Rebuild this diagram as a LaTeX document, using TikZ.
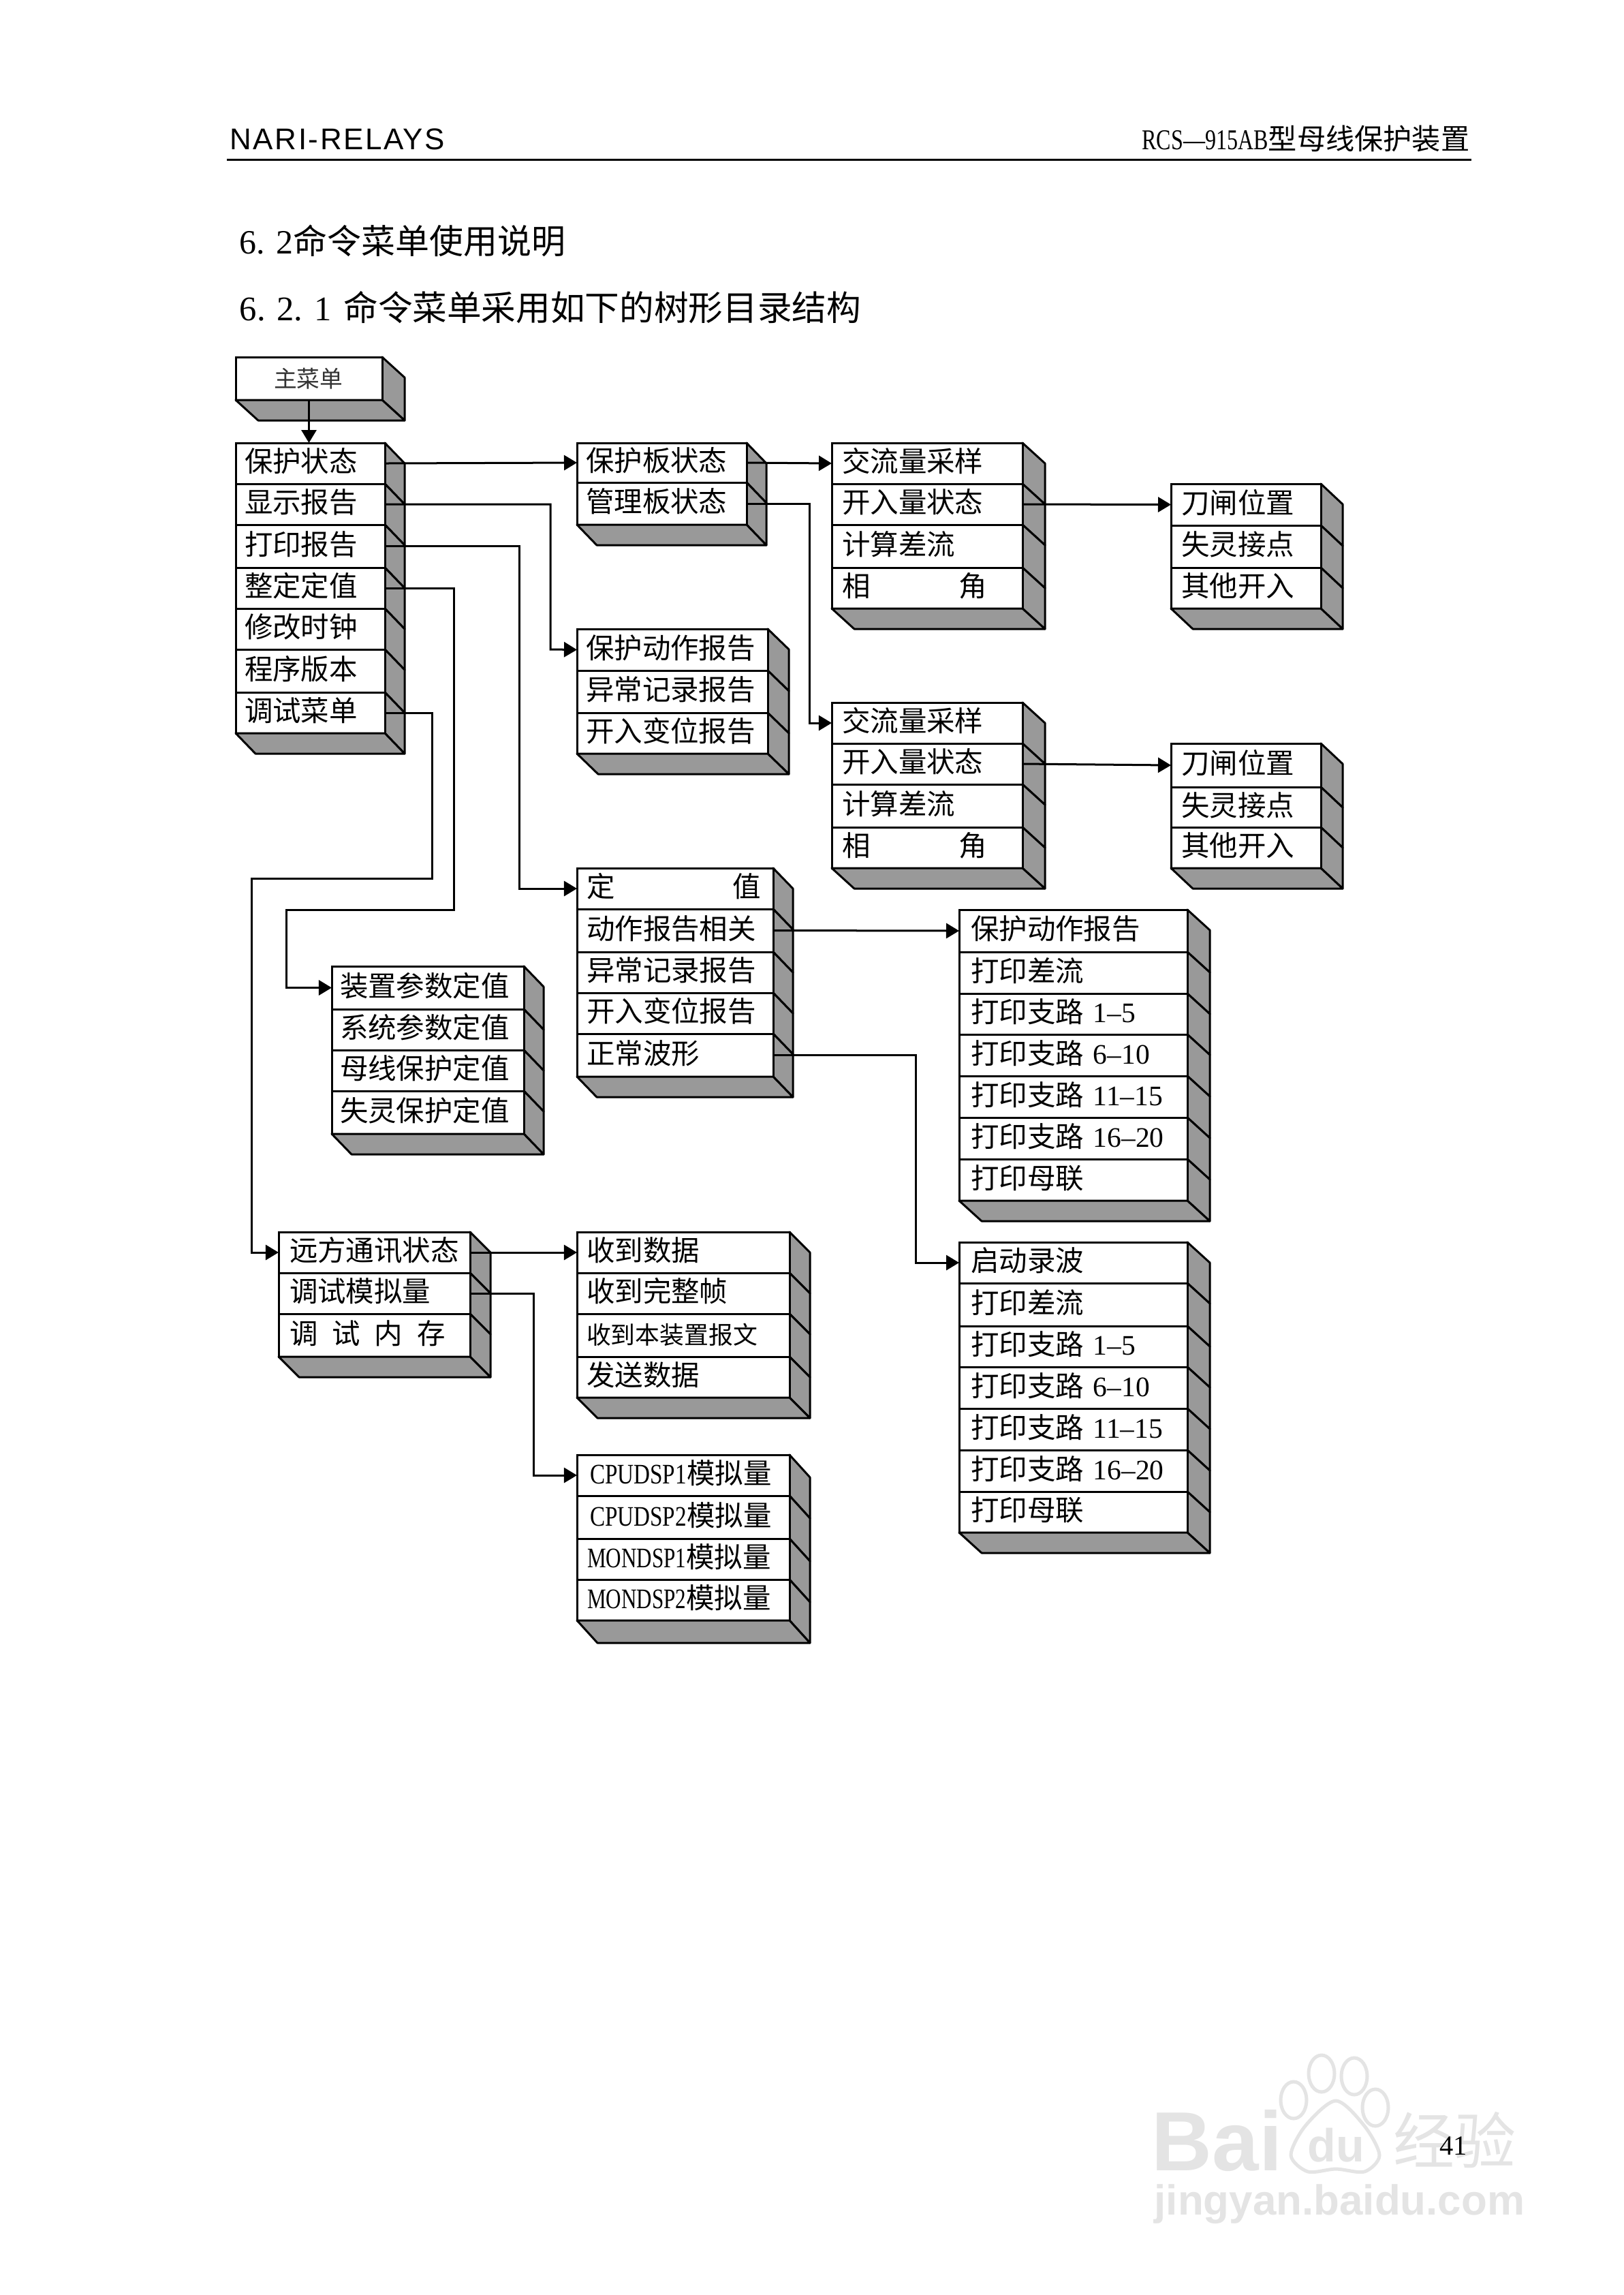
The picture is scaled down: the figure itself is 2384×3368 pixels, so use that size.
\documentclass[tikz,border=0pt]{standalone}
\usepackage{fontspec}
\usepackage{graphicx}
\usepackage{xcolor}
\usetikzlibrary{shapes,arrows.meta,positioning,calc}
\setmainfont{Liberation Serif}
\setsansfont{Liberation Sans}
\newfontfamily\cjkfont{Noto Sans CJK SC}
\newfontfamily\headfont[LetterSpace=5.8]{Liberation Sans}
\definecolor{facegray}{HTML}{999999}
\definecolor{markgray}{HTML}{E4E4E4}

\tikzset{
  face/.style={draw, fill=facegray, line width=0.03cm, line join=round},
  rowbox/.style={draw, fill=white, rectangle, anchor=north west, line width=0.03cm, inner ysep=0pt, outer sep=0pt,
    align=left, text height=0.32cm, text depth=0.064cm, font=\cjkfont\fontsize{11.8pt}{13pt}\selectfont},
  conn/.style={line width=0.03cm, -{Triangle[length=0.19cm,width=0.22cm]}},
  pagetext/.style={inner sep=0pt, anchor=base west},
  marktext/.style={inner sep=0pt, anchor=base west, text=markgray},
  markline/.style={draw=markgray, line width=0.05cm}
}

% one stack of rows: left edge, width, depth x, depth y, text padding
\newcommand{\setstack}[5]{\def\boxx{#1}\def\boxw{#2}\def\boxdx{#3}\def\boxdy{#4}\def\boxpad{#5}}
\newcommand{\menurow}[4]{%
  \draw[face] (\boxx+\boxw,#2) -- (\boxx+\boxw+\boxdx,#2+\boxdy) -- (\boxx+\boxw+\boxdx,#3+\boxdy) -- (\boxx+\boxw,#3) -- cycle;
  \pgfmathsetlengthmacro{\rowtext}{(\boxw-2*\boxpad)*0.01cm}
  \pgfmathsetlengthmacro{\rowpad}{\boxpad*0.01cm}
  \pgfmathsetlengthmacro{\rowwide}{\boxw*0.01cm}
  \pgfmathsetlengthmacro{\rowhigh}{(#3-#2)*0.01cm}
  \node[rowbox, text width=\rowtext, inner xsep=\rowpad, minimum width=\rowwide, minimum height=\rowhigh] (#1) at (\boxx,#2) {#4};}
\newcommand{\menubase}[1]{%
  \draw[face] (\boxx,#1) -- (\boxx+\boxdx,#1+\boxdy) -- (\boxx+\boxw+\boxdx,#1+\boxdy) -- (\boxx+\boxw,#1) -- cycle;}
% squeezed latin parts of the labels
\newcommand{\rng}[2]{{\normalfont #1\scalebox{0.5}[1]{—}#2}}
\newcommand{\cpulabel}[1]{{\normalfont\scalebox{0.8}[1]{#1}}}
\newcommand{\monlabel}[1]{{\normalfont\scalebox{0.75}[1]{#1}}}

\begin{document}
\begin{tikzpicture}[x=0.01cm,y=-0.01cm]
    \useasboundingbox (0,0) rectangle (2384,3368);

    % Page head
    \node[pagetext, font=\headfont\fontsize{12.5pt}{15pt}\selectfont] (headleft) at (337,219) {NARI-RELAYS};
    \node[pagetext, anchor=base east, font=\fontsize{12pt}{15pt}\selectfont] (headright) at (2158,219)
        {\scalebox{0.76}[1]{RCS—915AB}{\cjkfont 型母线保护装置}};
    \draw[line width=0.03cm] (333,234) -- (2160,234);
    \node[pagetext, font=\fontsize{14.2pt}{16pt}\selectfont] (secA) at (351,372) {6. 2{\cjkfont 命令菜单使用说明}};
    \node[pagetext, font=\fontsize{14.4pt}{16pt}\selectfont] (secB) at (351,470) {6. 2. 1 \hspace{0.05cm}{\cjkfont 命令菜单采用如下的树形目录结构}};

    % Root
    \setstack{346}{215}{33}{30}{13}
    \menurow{mainmenu}{524}{587}{\hspace*{0.43cm}\fontsize{9.6pt}{11pt}\selectfont\color{black!80}主菜单}
    \menubase{587}

    % First level
    \setstack{346}{219}{29}{30}{13}
    \menurow{mstatus}{650}{710}{保护状态}
    \menurow{mshow}{710}{770}{显示报告}
    \menurow{mprint}{770}{833}{打印报告}
    \menurow{msetting}{833}{893}{整定定值}
    \menurow{mclock}{893}{953}{修改时钟}
    \menurow{mversion}{953}{1016}{程序版本}
    \menurow{mdebug}{1016}{1076}{调试菜单}
    \menubase{1076}

    % Board status
    \setstack{847}{249}{29}{30}{13}
    \menurow{bprotect}{650}{708}{保护板状态}
    \menurow{bmanage}{708}{770}{管理板状态}
    \menubase{770}

    % Report list
    \setstack{847}{280}{31}{30}{13}
    \menurow{rprotect}{923}{984}{保护动作报告}
    \menurow{rabnormal}{984}{1046}{异常记录报告}
    \menurow{rinput}{1046}{1106}{开入变位报告}
    \menubase{1106}

    % Sampling stacks
    \setstack{1221}{280}{33}{30}{15}
    \menurow{sacA}{650}{710}{交流量采样}
    \menurow{sinA}{710}{770}{开入量状态}
    \menurow{sdiffA}{770}{833}{计算差流}
    \menurow{sangA}{833}{893}{相\hspace{1.3cm}角}
    \menubase{893}
    \menurow{sacB}{1031}{1091}{交流量采样}
    \menurow{sinB}{1091}{1151}{开入量状态}
    \menurow{sdiffB}{1151}{1214}{计算差流}
    \menurow{sangB}{1214}{1274}{相\hspace{1.3cm}角}
    \menubase{1274}

    % Switch stacks
    \setstack{1719}{220}{32}{30}{15}
    \menurow{kswA}{710}{771}{刀闸位置}
    \menurow{kfailA}{771}{833}{失灵接点}
    \menurow{kotherA}{833}{893}{其他开入}
    \menubase{893}
    \menurow{kswB}{1091}{1155}{刀闸位置}
    \menurow{kfailB}{1155}{1214}{失灵接点}
    \menurow{kotherB}{1214}{1274}{其他开入}
    \menubase{1274}

    % Print menu
    \setstack{847}{288}{29}{30}{14}
    \menurow{pvalue}{1274}{1334}{定\hspace{1.73cm}值}
    \menurow{paction}{1334}{1397}{动作报告相关}
    \menurow{pabnormal}{1397}{1457}{异常记录报告}
    \menurow{pinput}{1457}{1517}{开入变位报告}
    \menurow{pwave}{1517}{1580}{正常波形}
    \menubase{1580}

    % Setting menu
    \setstack{487}{282}{29}{30}{12}
    \menurow{vdevice}{1418}{1481}{装置参数定值}
    \menurow{vsystem}{1481}{1541}{系统参数定值}
    \menurow{vbus}{1541}{1601}{母线保护定值}
    \menurow{vfail}{1601}{1664}{失灵保护定值}
    \menubase{1664}

    % Print action report
    \setstack{1408}{335}{33}{30}{17}
    \menurow{arep}{1335}{1397}{保护动作报告}
    \menurow{adiff}{1397}{1458}{打印差流}
    \menurow{abrA}{1458}{1518}{打印支路 \rng{1}{5}}
    \menurow{abrB}{1518}{1579}{打印支路 \rng{6}{10}}
    \menurow{abrC}{1579}{1640}{打印支路 \rng{11}{15}}
    \menurow{abrD}{1640}{1701}{打印支路 \rng{16}{20}}
    \menurow{abus}{1701}{1762}{打印母联}
    \menubase{1762}

    % Print wave record
    \menurow{wrec}{1823}{1883}{启动录波}
    \menurow{wdiff}{1883}{1946}{打印差流}
    \menurow{wbrA}{1946}{2006}{打印支路 \rng{1}{5}}
    \menurow{wbrB}{2006}{2067}{打印支路 \rng{6}{10}}
    \menurow{wbrC}{2067}{2128}{打印支路 \rng{11}{15}}
    \menurow{wbrD}{2128}{2189}{打印支路 \rng{16}{20}}
    \menurow{wbus}{2189}{2249}{打印母联}
    \menubase{2249}

    % Debug menu
    \setstack{409}{281}{30}{30}{16}
    \menurow{dremote}{1808}{1868}{远方通讯状态}
    \menurow{danalog}{1868}{1928}{调试模拟量}
    \menurow{dmemory}{1928}{1991}{调\hspace{0.21cm}试\hspace{0.21cm}内\hspace{0.21cm}存}
    \menubase{1991}

    % Remote status
    \setstack{847}{312}{30}{30}{14}
    \menurow{crecv}{1808}{1868}{收到数据}
    \menurow{cframe}{1868}{1928}{收到完整帧}
    \menurow{cown}{1928}{1991}{\fontsize{10.2pt}{12pt}\selectfont 收到本装置报文}
    \menurow{csend}{1991}{2051}{发送数据}
    \menubase{2051}

    % Analog values
    \setstack{847}{312}{30}{33}{19}
    \menurow{qcpuA}{2135}{2195}{\cpulabel{CPUDSP1}模拟量}
    \menurow{qcpuB}{2195}{2258}{\cpulabel{CPUDSP2}模拟量}
    \menurow{qmonA}{2258}{2318}{\kern-0.04cm\monlabel{MONDSP1}模拟量}
    \menurow{qmonB}{2318}{2378}{\kern-0.04cm\monlabel{MONDSP2}模拟量}
    \menubase{2378}

    % Turning points
    \coordinate (turnshow) at (808,953);
    \coordinate (turnprint) at (762,1304);
    \coordinate (turnsetA) at (666,1335);
    \coordinate (turnsetB) at (420,1335);
    \coordinate (turndebugA) at (634,1289);
    \coordinate (turndebugB) at (369,1289);
    \coordinate (turnmanage) at (1188,1061);
    \coordinate (turnwave) at (1344,1853);
    \coordinate (turnanalog) at (783,2165);

    % Connectors
    \draw[conn] (mainmenu.south) -- (mainmenu.south |- mstatus.north);
    \draw[conn] (mstatus.east) -- (bprotect.west);
    \draw[conn] (bprotect.east) -- (sacA.west);
    \draw[conn] (sinA.east) -- (kswA.west);
    \draw[conn] (sinB.east) -- (kswB.west);
    \draw[conn] (mshow.east) -| (turnshow) -- (rprotect.west);
    \draw[conn] (mprint.east) -| (turnprint) -- (pvalue.west);
    \draw[conn] (msetting.east) -| (turnsetA) -- (turnsetB) |- (vdevice.west);
    \draw[conn] (mdebug.east) -| (turndebugA) -- (turndebugB) |- (dremote.west);
    \draw[conn] (bmanage.east) -| (turnmanage) -- (sacB.west);
    \draw[conn] (paction.east) -- (arep.west);
    \draw[conn] (pwave.east) -| (turnwave) -- (wrec.west);
    \draw[conn] (dremote.east) -- (crecv.west);
    \draw[conn] (danalog.east) -| (turnanalog) -- (qcpuA.west);

    % Watermark
    \node[marktext, font=\sffamily\bfseries\fontsize{35pt}{38pt}\selectfont] (markbai) at (1690,3185) {Bai};
    \node[marktext, font=\sffamily\bfseries\fontsize{19.4pt}{21pt}\selectfont] (markdu) at (1919,3172) {du};
    \node[marktext, font=\cjkfont\fontsize{25.6pt}{28pt}\selectfont] (markjing) at (2045,3175) {经验};
    \node[marktext, font=\sffamily\bfseries\fontsize{17.6pt}{20pt}\selectfont] (markurl) at (1694,3250) {jingyan.baidu.com};
    \draw[markline] (1899,3082) ellipse [x radius=0.19cm, y radius=0.27cm];
    \draw[markline] (1940,3043) ellipse [x radius=0.19cm, y radius=0.27cm];
    \draw[markline] (1988,3047) ellipse [x radius=0.19cm, y radius=0.27cm];
    \draw[markline] (2019,3093) ellipse [x radius=0.19cm, y radius=0.27cm];
    \draw[markline] plot[smooth cycle] coordinates {(1961,3083) (2003,3120) (2025,3163) (2003,3187) (1961,3183) (1920,3187) (1895,3163) (1916,3120)};

    % Page number
    \node[pagetext, font=\fontsize{11.5pt}{13pt}\selectfont] (pagenum) at (2113,3162) {41};
\end{tikzpicture}
\end{document}
